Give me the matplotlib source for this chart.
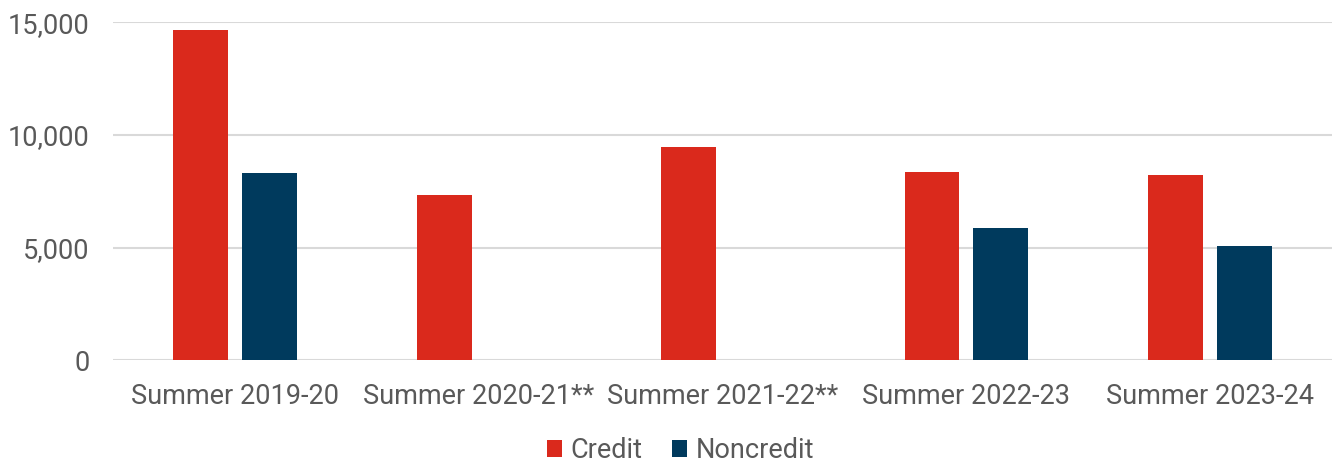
import matplotlib
matplotlib.use('Agg')
import matplotlib.pyplot as plt
import numpy as np
from matplotlib.ticker import FuncFormatter

# Data
categories = ['Summer 2019-20', 'Summer 2020-21**', 'Summer 2021-22**',
              'Summer 2022-23', 'Summer 2023-24']
credit = [14670, 7330, 9450, 8340, 8220]
noncredit = [8310, np.nan, np.nan, 5870, 5070]

credit_color = '#DA291C'
noncredit_color = '#003A5D'
text_color = '#595959'

plt.rcParams['font.family'] = ['Roboto', 'DejaVu Sans']

fig = plt.figure(figsize=(13.32, 4.62), dpi=100)
ax = fig.add_axes([0.085, 0.22, 0.915, 0.732])

x = np.arange(len(categories))
w = 0.225
off = 0.141
ax.bar(x - off, credit, w, color=credit_color, label='Credit', zorder=3)
ax.bar(x + off, noncredit, w, color=noncredit_color, label='Noncredit', zorder=3)

ax.set_xlim(-0.5, len(categories) - 0.5)
ax.set_ylim(0, 15000)
ax.set_yticks([0, 5000, 10000, 15000])
ax.yaxis.set_major_formatter(FuncFormatter(lambda v, p: f'{int(v):,}'))
ax.grid(axis='y', color='#D9D9D9', linewidth=1.5, zorder=0)
ax.set_axisbelow(True)

ax.set_xticks(x)
ax.set_xticklabels(categories)
ax.tick_params(axis='both', length=0, labelsize=19.5, colors=text_color)
ax.tick_params(axis='y', pad=17)
ax.tick_params(axis='x', pad=16)
for s in ax.spines.values():
    s.set_visible(False)

handles, labels = ax.get_legend_handles_labels()
leg = fig.legend(handles, labels, loc='center', bbox_to_anchor=(0.511, 0.025),
                 ncol=2, frameon=False, fontsize=19.5, handlelength=0.55,
                 handleheight=0.55, handletextpad=0.3, columnspacing=1.1,
                 borderpad=0)
for t in leg.get_texts():
    t.set_color(text_color)

fig.savefig('out.png', dpi=100)
